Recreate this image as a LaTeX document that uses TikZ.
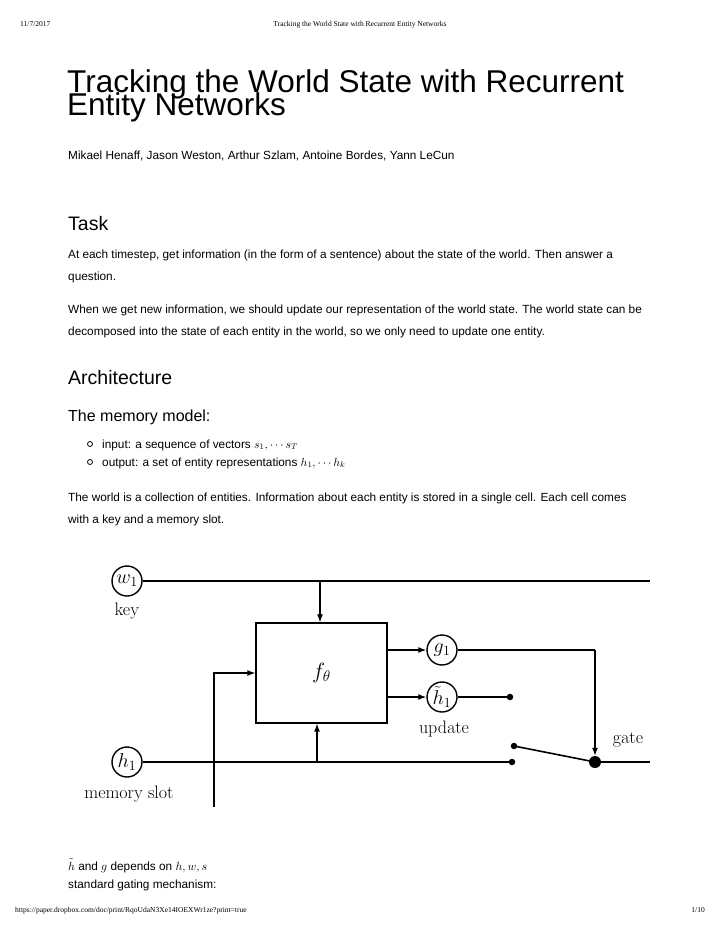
\RequirePackage{fix-cm}
\documentclass[tikz,border=0pt]{standalone}
\usepackage{amsmath}
\usepackage[no-math]{fontspec}
\setmainfont{Liberation Sans}
\newfontfamily\seriffont{Liberation Serif}
\usetikzlibrary{arrows.meta}
\tikzset{
  txt/.style={anchor=base west, inner sep=0pt, font=\fontsize{11.8}{14}\selectfont},
  hdr/.style={anchor=base, inner sep=0pt, font=\seriffont\fontsize{7.5}{9}\selectfont},
  h1style/.style={anchor=base west, inner sep=0pt, font=\fontsize{31.5}{34}\selectfont},
  h2style/.style={anchor=base west, inner sep=0pt, font=\fontsize{19.5}{22}\selectfont},
  h3style/.style={anchor=base west, inner sep=0pt, font=\fontsize{16}{18}\selectfont},
  var/.style={circle, draw, line width=1.4pt, minimum size=30pt, inner sep=0pt, font=\fontsize{20}{22}\selectfont},
  fbox/.style={draw, line width=1.3pt, minimum width=131pt, minimum height=100pt, inner sep=0pt, font=\fontsize{22}{24}\selectfont},
  lbl/.style={inner sep=0pt, font=\fontsize{18}{20}\selectfont},
  wire/.style={line width=1.2pt},
  arr/.style={wire, -{Latex[length=8pt,width=6pt]}},
  sdot/.style={circle, fill, inner sep=0pt, minimum size=6.5pt},
  bdot/.style={circle, fill, inner sep=0pt, minimum size=12pt},
  bul/.style={circle, draw, line width=0.8pt, inner sep=0pt, minimum size=5pt}
}
\begin{document}
\begin{tikzpicture}[x=1pt,y=-1pt]
\useasboundingbox (0,0) rectangle (720,932);
\fill[white] (0,0) rectangle (720,932);
% header / footer
\node[hdr, anchor=base west] (date) at (20,26) {11/7/2017};
\node[hdr] (htitle) at (360,26) {Tracking the World State with Recurrent Entity Networks};
\node[hdr, anchor=base west] (url) at (15,912) {https://paper.dropbox.com/doc/print/RqoUdaN3Xe14IOEXWr1ze?print=true};
\node[hdr, anchor=base east] (page) at (705,912) {1/10};
% title
\node[h1style] (t1) at (67,92) {Tracking the World State with Recurrent};
\node[h1style] (t2) at (67,115) {Entity Networks};
\node[txt] (auth) at (68,159) {Mikael Henaff, Jason Weston, Arthur Szlam, Antoine Bordes, Yann LeCun};
\node[h2style] (task) at (68,230) {Task};
\node[txt] (p1a) at (68,258) {At each timestep, get information (in the form of a sentence) about the state of the world. Then answer a};
\node[txt] (p1b) at (68,280) {question.};
\node[txt] (p2a) at (68,313) {When we get new information, we should update our representation of the world state. The world state can be};
\node[txt] (p2b) at (68,335) {decomposed into the state of each entity in the world, so we only need to update one entity.};
\node[h2style] (arch) at (68,384) {Architecture};
\node[h3style] (mm) at (68,421) {The memory model:};
\node[bul] (b1) at (90,444) {};
\node[txt] (i1) at (102,448) {input: a sequence of vectors $s_1, \cdots s_T$};
\node[bul] (b2) at (90,462) {};
\node[txt] (i2) at (102,466) {output: a set of entity representations $h_1, \cdots h_k$};
\node[txt] (p3a) at (68,501) {The world is a collection of entities. Information about each entity is stored in a single cell. Each cell comes};
\node[txt] (p3b) at (68,523) {with a key and a memory slot.};
\node[txt] (q1) at (68,870) {$\tilde{h}$ and $g$ depends on $h, w, s$};
\node[txt] (q2) at (68,888) {standard gating mechanism:};
% diagram
\node[var] (w) at (127,581) {$w_1$};
\node[lbl] (key) at (127,611) {$\mathrm{key}$};
\node[var] (h) at (127,762) {$h_1$};
\node[lbl] (ms) at (129,794) {$\mathrm{memory\ slot}$};
\node[fbox] (f) at (321.5,673) {$f_\theta$};
\node[var] (g) at (442,650) {$g_1$};
\node[var] (ht) at (442,697) {$\tilde{h}_1$};
\node[lbl] (upd) at (444,729) {$\mathrm{update}$};
\node[lbl] (gatel) at (628,740) {$\mathrm{gate}$};
\node[sdot] (d1) at (510,697) {};
\node[sdot] (d2) at (514,746) {};
\node[sdot] (d3) at (512,762) {};
\node[bdot] (gd) at (595,762) {};
\coordinate (wend) at (650,581);
\coordinate (gend) at (650,762);
\coordinate (sin) at (214,807);
\coordinate (sturn) at (214,673);
\coordinate (wtap) at (320,581);
\coordinate (htap) at (317,762);
\coordinate (gturn) at (595,650);
\draw[wire] (w.east) -- (wend);
\draw[arr] (wtap) -- (wtap |- f.north);
\draw[arr] (sin) -- (sturn) -- (f.west |- sturn);
\draw[wire] (h.east) -- (d3.center);
\draw[arr] (htap) -- (htap |- f.south);
\draw[arr] (f.east |- g) -- (g.west);
\draw[arr] (f.east |- ht) -- (ht.west);
\draw[wire] (g.east) -- (gturn);
\draw[arr] (gturn) -- (gd.north);
\draw[wire] (ht.east) -- (d1.center);
\draw[wire, line width=1.6pt] (d2.center) -- (gd.center);
\draw[wire] (gd.center) -- (gend);
\end{tikzpicture}
\end{document}
